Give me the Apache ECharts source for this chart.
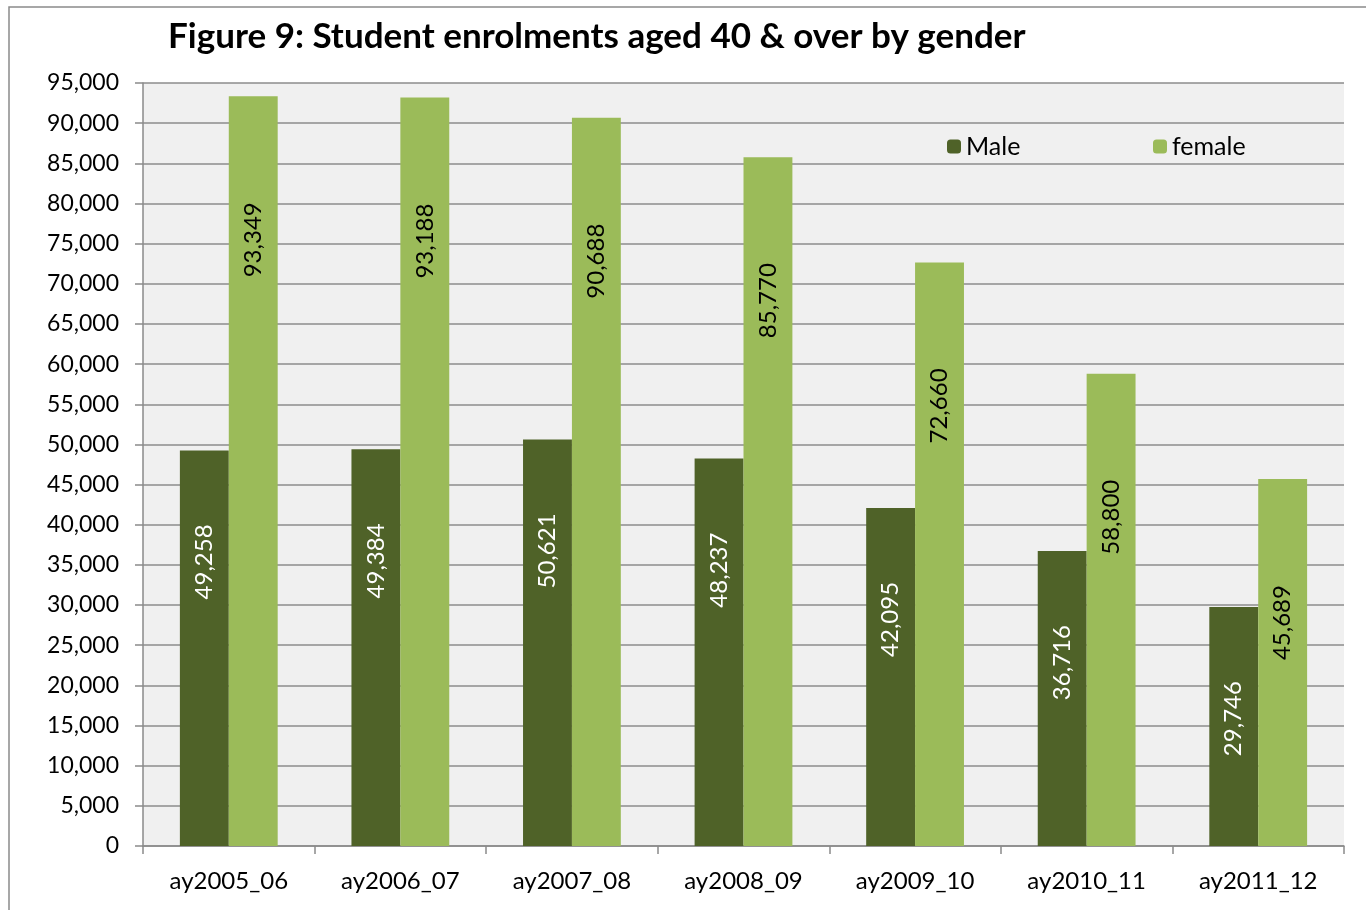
<!DOCTYPE html>
<html>
<head>
<meta charset="utf-8">
<script src="https://cdn.jsdelivr.net/npm/echarts@6/dist/echarts.min.js"></script>
<style>
html, body { margin: 0; padding: 0; background: #ffffff; }
#chart { width: 1366px; height: 910px; }
</style>
</head>
<body>
<div id="chart"></div>
<script>
// academic years
const years = ['ay2005_06', 'ay2006_07', 'ay2007_08', 'ay2008_09', 'ay2009_10', 'ay2010_11', 'ay2011_12']
const maleValues = [49258, 49384, 50621, 48237, 42095, 36716, 29746]
const femaleValues = [93349, 93188, 90688, 85770, 72660, 58800, 45689]

const font = 'Lato, "Noto Sans", sans-serif'
const fmt = v => Number(v).toLocaleString('en-US')

const chart = echarts.init(document.getElementById('chart'))
chart.setOption({
  animation: false,
  textStyle: { fontFamily: font },
  title: {
    text: 'Figure 9: Student enrolments aged 40 & over by gender',
    left: 163,
    top: 14,
    textStyle: { fontSize: 35, fontWeight: 'bold', color: '#000', fontFamily: font }
  },
  graphic: [{
    type: 'rect',
    shape: { x: 9, y: 7, width: 1400, height: 1000 },
    style: { fill: 'none', stroke: '#8a8a8a', lineWidth: 1.5 },
    silent: true
  }],
  legend: [{
    data: ['Male'],
    left: 942,
    top: 129,
    itemWidth: 14,
    itemHeight: 14,
    itemGap: 6,
    textStyle: { fontSize: 25, color: '#000', fontFamily: font }
  }, {
    data: ['female'],
    left: 1148,
    top: 129,
    itemWidth: 14,
    itemHeight: 14,
    textStyle: { fontSize: 25, color: '#000', fontFamily: font }
  }],
  grid: {
    left: 143,
    right: 22,
    top: 83,
    bottom: 64,
    show: true,
    backgroundColor: '#f0f0f0',
    borderWidth: 0
  },
  xAxis: {
    type: 'category',
    data: years,
    axisLine: { lineStyle: { color: '#8a8a8a', width: 1.5 } },
    axisTick: { show: true, length: 8, lineStyle: { color: '#8a8a8a', width: 1.5 } },
    axisLabel: { fontSize: 24, color: '#000', margin: 23, fontFamily: font }
  },
  yAxis: {
    type: 'value',
    min: 0,
    max: 95000,
    interval: 5000,
    axisLine: { show: true, lineStyle: { color: '#8a8a8a', width: 1.5 } },
    axisTick: { show: true, length: 8, lineStyle: { color: '#8a8a8a', width: 1.5 } },
    splitLine: { lineStyle: { color: '#8c8c8c', width: 1.5 } },
    axisLabel: { fontSize: 23, color: '#000', margin: 24, formatter: fmt, fontFamily: font }
  },
  series: [{
    name: 'Male',
    type: 'bar',
    data: maleValues,
    barGap: '0%',
    barCategoryGap: '43%',
    itemStyle: { color: '#4f6228' },
    label: {
      show: true,
      position: 'insideTop',
      distance: 74,
      rotate: 90,
      align: 'right',
      verticalAlign: 'middle',
      formatter: p => fmt(p.value),
      fontSize: 24,
      color: '#ffffff',
      fontFamily: font
    }
  }, {
    name: 'female',
    type: 'bar',
    data: femaleValues,
    itemStyle: { color: '#9bbb59' },
    label: {
      show: true,
      position: 'insideTop',
      distance: 106,
      rotate: 90,
      align: 'right',
      verticalAlign: 'middle',
      formatter: p => fmt(p.value),
      fontSize: 24,
      color: '#000000',
      fontFamily: font
    }
  }]
})
</script>
</body>
</html>
